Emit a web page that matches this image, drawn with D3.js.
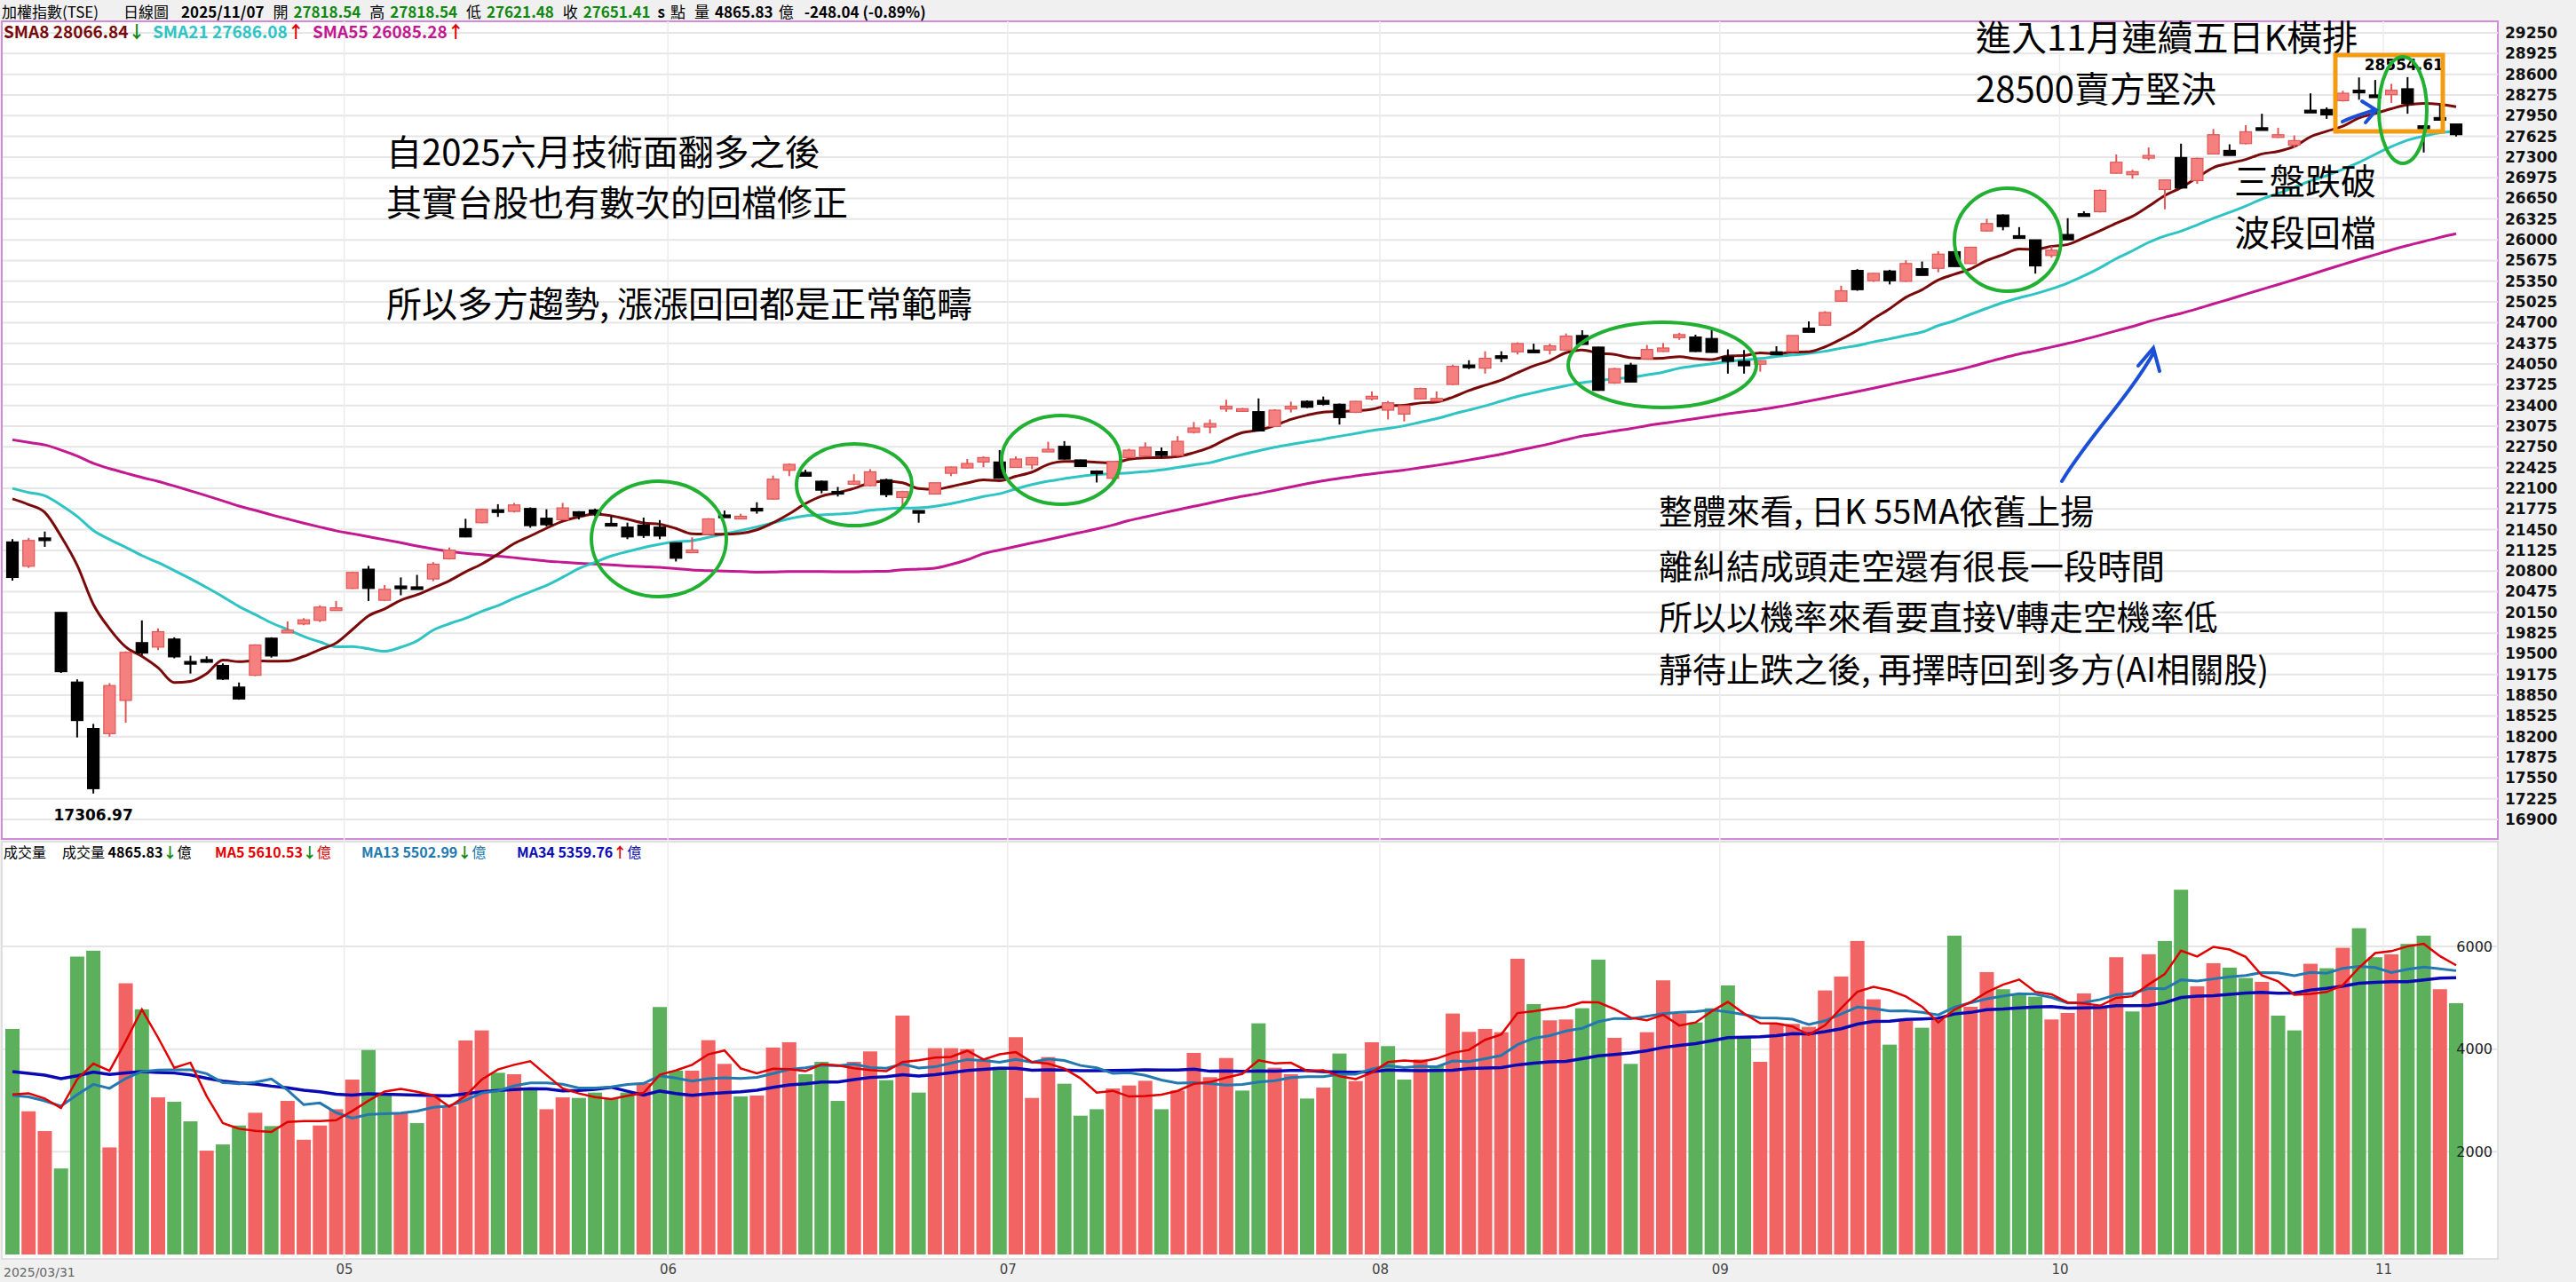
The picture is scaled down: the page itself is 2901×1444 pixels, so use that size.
<!DOCTYPE html>
<html><head><meta charset="utf-8">
<script src="https://cdn.jsdelivr.net/npm/d3@7"></script>
<style>body{margin:0;background:#fff}svg{display:block}</style>
</head><body><svg id="c" width="2901" height="1444"></svg>
<script>
const opens=[21257,20876,21320,20150,19057,18327,18248,18769,19676,19606,19732,19380,19410,19318,18978,19164,19746,19865,19969,20025,20215,20527,20829,20341,20565,20552,20676,20992,21466,21559,21762,21736,21782,21629,21606,21731,21759,21548,21489,21522,21489,21243,21120,21373,21680,21650,21785,21930,22382,22349,22210,22050,22163,22140,22233,21954,21750,22010,22335,22419,22512,22512,22428,22465,22705,22758,22545,22370,22256,22582,22605,22675,22614,22977,23061,23380,23312,23302,23070,23380,23465,23479,23419,23293,23540,23326,23265,23503,23490,23730,24035,23986,24180,24242,24270,24270,24270,24498,24316,23754,24033,24130,24247,24465,24474,24451,24163,24093,24047,24242,24247,24614,24660,25037,25520,25358,25511,25349,25548,25553,25814,25628,26140,26390,26065,26000,25754,26084,26410,26442,27046,27023,27320,26790,27293,26930,27348,27404,27511,27760,27645,27488,28035,28046,28185,28350,28275,28279,28372,27790,27920,27818.54];
const highs=[21300,21320,21420,20150,19100,18400,19040,19540,20025,19900,19760,19470,19460,19350,19050,19650,19760,20010,20060,20260,20330,20790,20880,20580,20700,20740,20940,21170,21620,21780,21850,21870,21800,21770,21870,21740,21780,21660,21560,21640,21600,21250,21330,21630,21750,21700,21880,22300,22490,22390,22220,22120,22320,22400,22250,22060,21750,22190,22440,22560,22600,22700,22600,22590,22830,22840,22550,22380,22525,22720,22820,22740,22920,23140,23180,23490,23360,23510,23340,23460,23480,23540,23430,23470,23620,23470,23400,23680,23620,24040,24110,24250,24250,24390,24370,24370,24530,24580,24320,23990,24070,24350,24380,24540,24510,24590,24280,24270,24110,24330,24500,24720,24880,25280,25540,25480,25530,25680,25660,25820,25820,25890,26330,26400,26200,26000,25900,26340,26450,26790,27340,27100,27450,26950,27510,27290,27740,27500,27800,27980,27760,27640,28300,28080,28340,28550,28510,28450,28554.61,27800,28120,27818.54];
const lows=[20650,20850,21180,19200,18188,17306.97,18200,18420,19480,19560,19430,19190,19360,19090,18780,19150,19440,19860,19950,20000,20200,20520,20330,20330,20420,20540,20640,20980,21330,21550,21650,21720,21480,21500,21600,21610,21660,21540,21300,21320,21300,20950,21115,21370,21640,21640,21700,21925,22290,22280,22020,21970,22150,22130,21960,21820,21560,22000,22290,22410,22430,22250,22420,22400,22690,22550,22440,22190,22230,22570,22600,22580,22600,22960,22960,23300,23300,22990,23060,23290,23360,23400,23100,23280,23480,23180,23150,23500,23480,23720,23970,23900,24080,24200,24230,24200,24260,24350,23630,23740,23760,24120,24240,24430,24240,24230,23900,23900,23930,24190,24240,24545,24650,25030,25200,25340,25300,25340,25440,25490,25580,25620,26130,26150,26055,25470,25720,26000,26390,26430,27040,26960,27250,26480,26810,26880,27340,27325,27500,27755,27600,27450,28030,27900,28170,28200,28270,28150,27980,27372,27915,27621.48];
const closes=[20699,21280,21313,19220,18453,17384,19002,19523,19513,19848,19453,19374,19406,19104,18792,19639,19467,19871,20034,20234,20222,20778,20527,20513,20560,20550,20908,21127,21336,21768,21759,21838,21513,21527,21791,21666,21699,21545,21336,21359,21350,21001,21130,21619,21675,21660,21782,22242,22475,22289,22070,22047,22210,22358,22000,22047,21745,22186,22433,22489,22582,22256,22559,22582,22712,22558,22442,22363,22521,22698,22744,22614,22837,23047,23116,23386,23349,23000,23326,23386,23372,23419,23210,23465,23544,23442,23396,23665,23510,24014,24033,24140,24177,24372,24265,24335,24488,24358,23637,23977,23768,24279,24302,24512,24247,24233,24093,24023,24103,24195,24498,24549,24860,25200,25218,25474,25358,25628,25442,25776,25581,25884,26256,26209,26060,25591,25837,26000,26405,26777,27218,27070,27325,26940,26814,27279,27651,27325,27697,27757,27650,27558,28032,27962,28302,28348,28270,28348,28139,27744,27916,27651.41];
const priorCloses=[23520,23480,23600,23710,23650,23540,23400,23300,23250,23410,23560,23620,23500,23380,23290,23350,23470,23580,23610,23490,23300,23150,23050,23200,23340,23420,23260,23100,22950,22980,23120,23050,22900,22780,22600,22420,22300,22150,22050,21950,22100,22250,22180,22050,22100,22300,22120,22000,22300,22200,22100,22300,22050,21820];
const volumes=[4393,2789,2403,1675,5801,5916,2085,5282,4774,3060,2974,2593,2022,2143,2512,2760,2501,2991,2235,2512,2829,3406,3983,3135,2760,2558,3060,2887,4168,4364,3539,3510,3233,2829,3060,3049,3153,3037,3153,3337,4820,3580,3580,4174,3712,3078,3095,4030,4134,3510,3753,2991,3753,3955,3395,4653,3153,4018,4018,4001,3799,3655,4232,3049,3845,3326,2703,2829,3233,3291,3383,2829,3193,3926,3453,3827,3192,4502,3637,3510,3037,3250,3914,3377,4133,4058,3406,3798,3683,4693,4335,4393,4329,5760,4877,4560,4577,4796,5743,4219,3712,4329,5339,4693,4519,4796,5241,4214,3752,4502,4491,4433,5143,5414,6106,4970,4087,4548,4416,4577,6210,4825,5500,5166,5068,5021,4577,4704,5085,4837,5789,4733,5847,6106,7104,5223,5673,5587,5385,5310,4652,4364,5662,5575,5973,6354,5789,5847,6048,6210,5166,4895];
const volumeDir="GRRGGGRRGRGGRGGRGRRRRRGGRGRRRRGRGRRGGGGRGGRRRGRRRGGGRRGRGRRRRGRRRGGGRRRGRRRRGGRRGRGRRGGRGRRRRRGRRGGRGRRRGGGGRRRRRRRRGRGRGRRGGGRRRRRGRGGRRGGRGGRGRGGRGGRG".split("");
const priorVolumes=[3900,3600,4100,3800,3500,3700,4200,3900,3600,3400,3800,4300,4000,3700,3500,3900,4100,3800,3600,4400,4000,3200,3400,3000,2900,3300,3100,2800,3000,2700,2900,2600,3000];
const priceTicks=d3.range(16900,29251,325);
const volTicks=[2000,4000,6000];
const monthStarts=[21,41,62,85,106,127,147];
const monthLabels=["05","06","07","08","09","10","11"];
const firstDateLabel="2025/03/31";
const lowLabel="17306.97", highLabel="28554.61";

const svg=d3.select("#c");
const W=2901,PR=2813;
const x=d3.scaleLinear().domain([0,151]).range([14,2766]);
const y=d3.scaleLinear().domain([16900,29250]).range([923,37]);
const yv=d3.scaleLinear().domain([0,6000]).range([1413,1066]);
const cjk="'Noto Sans CJK TC','Noto Sans',sans-serif";
const vfont="'DejaVu Sans',Verdana,sans-serif";

svg.append("rect").attr("width",W).attr("height",1444).attr("fill","#f0f0f0");
svg.append("rect").attr("x",2).attr("y",24).attr("width",PR-2).attr("height",921).attr("fill","#fff").attr("stroke","#d08cd8").attr("stroke-width",2);
svg.append("rect").attr("x",2).attr("y",948).attr("width",PR-2).attr("height",470).attr("fill","#fff").attr("stroke","#d8d8d8").attr("stroke-width",1.5);

const g=svg.append("g");
g.selectAll(".hg").data(priceTicks).join("line").attr("x1",3).attr("x2",PR).attr("y1",d=>y(d)).attr("y2",d=>y(d)).attr("stroke","#e6e6e6").attr("stroke-width",2);
g.selectAll(".vg").data(volTicks).join("line").attr("x1",3).attr("x2",PR).attr("y1",d=>yv(d)).attr("y2",d=>yv(d)).attr("stroke","#e6e6e6").attr("stroke-width",2);
g.selectAll(".mg").data(monthStarts).join("line").attr("x1",d=>x(d-0.5)).attr("x2",d=>x(d-0.5)).attr("y1",24).attr("y2",1418).attr("stroke","#ececec").attr("stroke-width",1.5);

const ya=d3.axisRight(y).tickValues(priceTicks).tickFormat(d3.format("d")).tickSize(0).tickPadding(8);
const yag=svg.append("g").attr("transform",`translate(${PR},0)`).call(ya);
yag.select(".domain").remove();
yag.selectAll("text").attr("font-family",vfont).attr("font-weight","bold").attr("font-size",17).attr("fill","#111");
const xa=d3.axisBottom(x).tickValues(monthStarts.map(d=>d-0.5)).tickFormat((d,i)=>monthLabels[i]).tickSize(0).tickPadding(6);
const xag=svg.append("g").attr("transform","translate(0,1418)").call(xa);
xag.select(".domain").remove();
xag.selectAll("text").attr("font-family",vfont).attr("font-size",15).attr("fill","#444");
svg.append("text").attr("x",x(0)-10).attr("y",1438).attr("font-family",vfont).attr("font-size",14).attr("fill","#666").text(firstDateLabel);

function sma(all,n,offset){return d3.range(offset,all.length).map(i=>d3.mean(all.slice(i-n+1,i+1)));}
const allC=priorCloses.concat(closes), off=priorCloses.length;
const line=d3.line().x((d,i)=>x(i)).y(d=>y(d)).curve(d3.curveMonotoneX);
[[55,"#c21890"],[21,"#2ec4c4"],[8,"#7a0a0a"]].forEach(([n,c])=>{
  svg.append("path").datum(sma(allC,n,off)).attr("d",line).attr("fill","none").attr("stroke",c).attr("stroke-width",3);
});

const cg=svg.append("g");
closes.forEach((c,i)=>{
  const o=opens[i],up=c>o;
  const col=up?"#e25555":"#000", fill=up?"#f58080":"#000";
  cg.append("line").attr("x1",x(i)).attr("x2",x(i)).attr("y1",y(highs[i])).attr("y2",y(lows[i])).attr("stroke",col).attr("stroke-width",2);
  const t=y(Math.max(o,c)),b=y(Math.min(o,c));
  cg.append("rect").attr("x",x(i)-6.5).attr("y",t).attr("width",13).attr("height",Math.max(b-t,3)).attr("fill",fill).attr("stroke",col).attr("stroke-width",1.2);
});
svg.append("text").attr("x",x(5)).attr("y",y(17306.97)+30).attr("text-anchor","middle").attr("font-family",vfont).attr("font-weight","bold").attr("font-size",17).text(lowLabel);
svg.append("text").attr("x",x(148)-4).attr("y",y(28554.61)-8).attr("text-anchor","middle").attr("font-family",vfont).attr("font-weight","bold").attr("font-size",17).text(highLabel);

svg.append("g").selectAll("rect").data(volumes).join("rect")
 .attr("x",(d,i)=>x(i)-8).attr("width",16).attr("y",d=>yv(d)).attr("height",d=>yv(0)-yv(d))
 .attr("fill",(d,i)=>volumeDir[i]==="R"?"#f26464":"#5cb05c");
const allV=priorVolumes.concat(volumes),vo=priorVolumes.length;
const vline=d3.line().x((d,i)=>x(i)).y(d=>yv(d));
[[34,"#0a0ab4",3.5],[13,"#2378b0",3],[5,"#e00000",2.5]].forEach(([n,c,w])=>{
  svg.append("path").datum(sma(allV,n,vo)).attr("d",vline).attr("fill","none").attr("stroke",c).attr("stroke-width",w);
});
const va=d3.axisLeft(yv).tickValues(volTicks).tickFormat(d3.format("d")).tickSize(0).tickPadding(4);
const vag=svg.append("g").attr("transform",`translate(${PR-2},0)`).call(va);
vag.select(".domain").remove();
vag.selectAll("text").attr("font-family",vfont).attr("font-size",16).attr("fill","#222");

const hd=svg.append("text").attr("x",2).attr("y",20).attr("font-family",cjk).attr("font-size",17).attr("fill","#000");
const hparts=[["加權指數(TSE)","#000","normal",0],["日線圖","#000","normal",28],["2025/11/07","#000","bold",14],["開","#000","normal",10],["27818.54","#118811","bold",6],["高","#000","normal",10],["27818.54","#118811","bold",6],["低","#000","normal",10],["27621.48","#118811","bold",6],["收","#000","normal",10],["27651.41","#118811","bold",6],["s","#000","bold",8],["點","#000","normal",6],["量","#000","normal",10],["4865.83","#000","bold",6],["億","#000","normal",6],["-248.04 (-0.89%)","#000","bold",12]];
hparts.forEach(([t,c,w,dx])=>hd.append("tspan").attr("dx",dx).attr("fill",c).attr("font-weight",w).text(t));

function legend(yy,fs,items){
  items.forEach(([xx,parts])=>{
    const t=svg.append("text").attr("x",xx).attr("y",yy).attr("font-family",cjk).attr("font-weight","bold").attr("font-size",fs);
    parts.forEach(([s,c,w])=>t.append("tspan").attr("fill",c).attr("font-weight",w||"bold").text(s));
  });
}
legend(43,19,[[4,[["SMA8 28066.84","#7a0a0a"],["↓","#118811"]]],[172,[["SMA21 27686.08","#2ec4c4"],["↑","#e00000"]]],[352,[["SMA55 26085.28","#c21890"],["↑","#e00000"]]]]);
legend(966,16,[[4,[["成交量","#000","normal"]]],[70,[["成交量 ","#000","normal"],["4865.83","#000"],["↓","#118811"],["億","#000","normal"]]],[242,[["MA5 5610.53","#e00000"],["↓","#118811"],["億","#e00000","normal"]]],[407,[["MA13 5502.99","#2378b0"],["↓","#118811"],["億","#2378b0","normal"]]],[582,[["MA34 5359.76","#0a0ab4"],["↑","#e00000"],["億","#0a0ab4","normal"]]]]);

function txt(xx,yy,s,fs){svg.append("text").attr("x",xx).attr("y",yy).attr("font-family",cjk).attr("font-size",fs).attr("fill","#000").text(s);}
txt(435,186,"自2025六月技術面翻多之後",40);
txt(435,243,"其實台股也有數次的回檔修正",40);
txt(435,357,"所以多方趨勢, 漲漲回回都是正常範疇",40);
txt(1868,590,"整體來看, 日K 55MA依舊上揚",38);
txt(1868,652,"離糾結成頭走空還有很長一段時間",38);
txt(1868,709,"所以以機率來看要直接V轉走空機率低",38);
txt(1868,768,"靜待止跌之後, 再擇時回到多方(AI相關股)",38);
txt(2225,57,"進入11月連續五日K橫排",40);
txt(2225,115,"28500賣方堅決",40);
txt(2516,219,"三盤跌破",40);
txt(2516,277,"波段回檔",40);

svg.append("rect").attr("x",2630).attr("y",62).attr("width",121).attr("height",86).attr("fill","none").attr("stroke","#f39c12").attr("stroke-width",5);
const ell=[[742,607,76,65],[962,546,65,46],[1195,518,67,50],[1872,411,106,48],[2261,270,60,58],[2706,124,27,60]];
svg.selectAll(".el").data(ell).join("ellipse").attr("cx",d=>d[0]).attr("cy",d=>d[1]).attr("rx",d=>d[2]).attr("ry",d=>d[3]).attr("fill","none").attr("stroke","#22b033").attr("stroke-width",4);
svg.append("path").attr("d","M2322,542 C2350,495 2395,450 2425,398 M2408,412 L2425,392 L2432,418").attr("fill","none").attr("stroke","#1a4fd6").attr("stroke-width",4).attr("stroke-linecap","round");
svg.append("path").attr("d","M2638,137 C2650,131 2662,128 2674,124 M2660,114 L2676,124 L2664,138").attr("fill","none").attr("stroke","#1a4fd6").attr("stroke-width",4).attr("stroke-linecap","round");
</script></body></html>
